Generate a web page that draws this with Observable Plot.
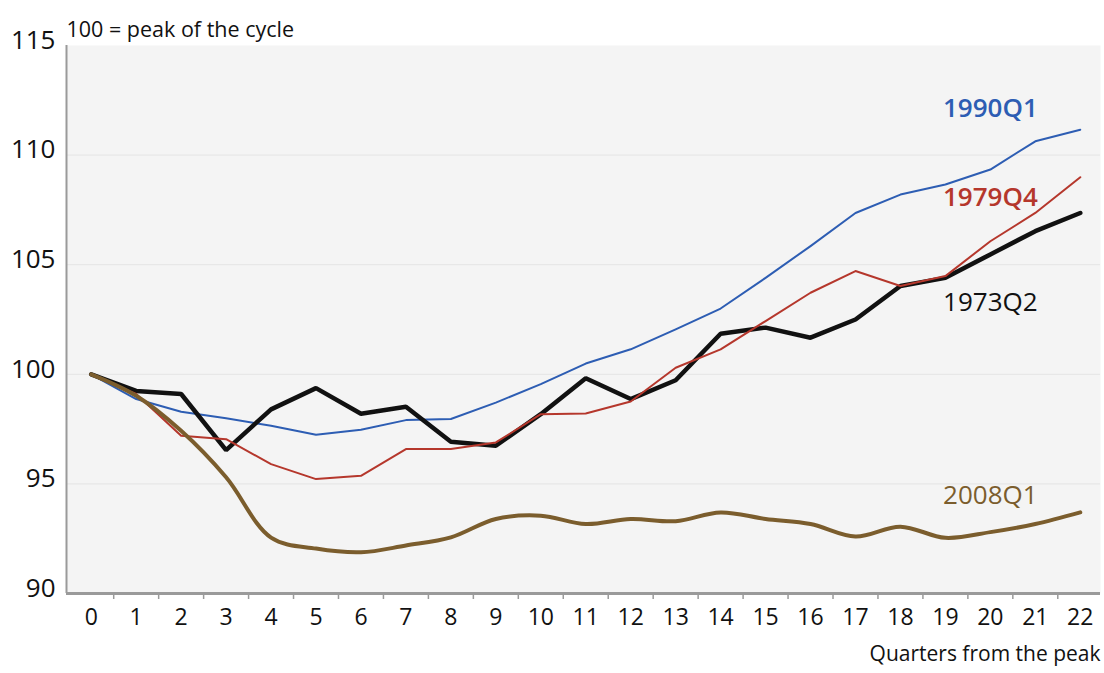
<!DOCTYPE html>
<html>
<head>
<meta charset="utf-8">
<script src="https://cdn.jsdelivr.net/npm/d3@7"></script>
<script src="https://cdn.jsdelivr.net/npm/@observablehq/plot@0.6"></script>
<style>
  html, body { margin: 0; padding: 0; background: #fff; }
  #chart svg { display: block; }
</style>
</head>
<body>
<div id="chart"></div>
<script>
const quarters = d3.range(0, 23);
const s1973Q2 = [100, 99.24, 99.1, 96.54, 98.4, 99.37, 98.2, 98.52, 96.92, 96.74, 98.18, 99.82, 98.87, 99.73, 101.85, 102.13, 101.67, 102.5, 104.03, 104.4, 105.47, 106.53, 107.36];
const s1990Q1 = [100, 98.87, 98.29, 98.0, 97.65, 97.24, 97.47, 97.91, 97.96, 98.71, 99.55, 100.49, 101.14, 102.05, 103.0, 104.4, 105.85, 107.36, 108.2, 108.66, 109.34, 110.63, 111.16];
const s1979Q4 = [100, 99.1, 97.2, 97.04, 95.9, 95.22, 95.37, 96.59, 96.59, 96.89, 98.18, 98.21, 98.76, 100.3, 101.14, 102.43, 103.72, 104.71, 104.03, 104.48, 106.07, 107.36, 108.99];
const s2008Q1 = [100, 99.02, 97.42, 95.3, 92.55, 92.05, 91.88, 92.19, 92.56, 93.4, 93.55, 93.17, 93.4, 93.3, 93.7, 93.4, 93.17, 92.6, 93.05, 92.54, 92.8, 93.17, 93.7];

const yTicks = [90, 95, 100, 105, 110, 115];
const gridValues = [95, 100, 105, 110];
const xTickLabels = quarters;
const xTickMarks = d3.range(0.5, 22, 1);

const labelNames = ["1990Q1", "1979Q4", "1973Q2", "2008Q1"];
const labelX = [20, 20, 20, 20];
const labelY = [112.1, 108.05, 103.25, 94.45];

const subtitle = "100 = peak of the cycle";
const xTitle = "Quarters from the peak";

const colors = {"1973Q2": "#111111", "1990Q1": "#2d5db3", "1979Q4": "#b5372c", "2008Q1": "#7b5d2d"};
const weights = {"1973Q2": 500, "1990Q1": 600, "1979Q4": 600, "2008Q1": 500};

const toRows = (name, vals) => vals.map((v, i) => ({q: quarters[i], v, series: name}));
const r1973 = toRows("1973Q2", s1973Q2);
const r1990 = toRows("1990Q1", s1990Q1);
const r1979 = toRows("1979Q4", s1979Q4);
const r2008 = toRows("2008Q1", s2008Q1);
const labels = labelNames.map((n, i) => ({name: n, x: labelX[i], y: labelY[i]}));

const font = "'Open Sans', 'Noto Sans', sans-serif";

const chart = Plot.plot({
  width: 1104,
  height: 673,
  marginTop: 45,
  marginLeft: 66,
  marginRight: 4,
  marginBottom: 80,
  style: {fontFamily: font, background: "#fff", color: "#111"},
  x: {domain: [-0.55, 22.45], axis: null},
  y: {domain: [90, 115], axis: null},
  marks: [
    Plot.frame({fill: "#f4f4f4", stroke: "none"}),
    Plot.ruleY(gridValues, {stroke: "#e4e4e4", strokeWidth: 1}),
    Plot.axisY({ticks: yTicks, tickSize: 0, tickPadding: 11, fontSize: 26, dy: -5, fill: "#111"}),
    Plot.axisX({ticks: xTickLabels, tickSize: 0, tickPadding: 12, fontSize: 23, fill: "#111", dy: 3}),
    Plot.axisX({ticks: xTickMarks, tickFormat: () => "", tickSize: 6, stroke: "#9a9a9a", strokeWidth: 1.5}),
    Plot.ruleX([-0.55], {stroke: "#9a9a9a", strokeWidth: 2}),
    Plot.ruleY([90], {stroke: "#9a9a9a", strokeWidth: 3}),
    Plot.line(r1990, {x: "q", y: "v", stroke: colors["1990Q1"], strokeWidth: 2}),
    Plot.line(r1973, {x: "q", y: "v", stroke: colors["1973Q2"], strokeWidth: 4.5, strokeLinejoin: "miter"}),
    Plot.line(r1979, {x: "q", y: "v", stroke: colors["1979Q4"], strokeWidth: 2}),
    Plot.line(r2008, {x: "q", y: "v", stroke: colors["2008Q1"], strokeWidth: 4, curve: "catmull-rom"}),
    ...labels.map(l => Plot.text([l], {x: "x", y: "y", text: "name", fill: colors[l.name], fontSize: 26, fontWeight: weights[l.name], textAnchor: "middle"})),
    Plot.text([subtitle], {frameAnchor: "top-left", dy: -24, dx: 0, textAnchor: "start", fontSize: 21.5, fill: "#111"}),
    Plot.text([xTitle], {frameAnchor: "bottom-right", dy: 67, dx: 0, textAnchor: "end", fontSize: 21, fill: "#111"})
  ]
});
document.getElementById("chart").appendChild(chart);
</script>
</body>
</html>
